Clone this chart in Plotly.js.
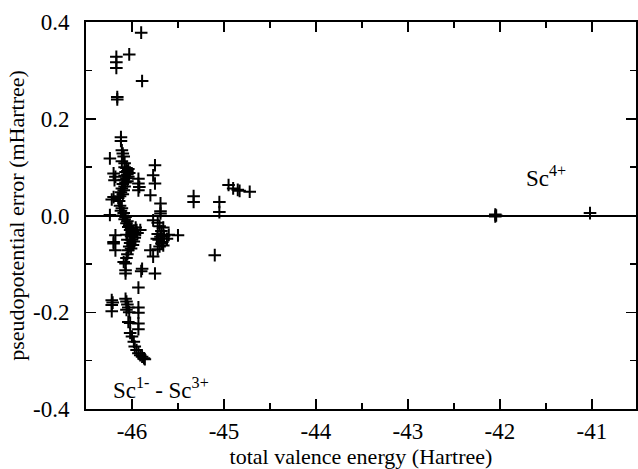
<!DOCTYPE html>
<html>
<head>
<meta charset="utf-8">
<script src="https://cdn.plot.ly/plotly-3.0.1.min.js"></script>
<style>html,body{margin:0;padding:0;background:#fff;}#chart{width:638px;height:469px;}</style>
</head>
<body>
<div id="chart"></div>
<script>
// total valence energy (Hartree)
var energy = [
  -45.90,-46.03,-46.17,-46.17,-46.17,-45.89,-46.16,-46.16,-46.12,-46.12,-46.11,-46.10,-46.09,-46.24,-46.11,-46.08,
  -46.08,-46.06,-46.04,-46.05,-46.07,-46.03,-46.05,-46.08,-46.04,-46.06,-46.09,-46.05,-46.07,-46.10,-46.08,-46.11,-46.09,-46.12,-46.10,-46.20,-46.18,-46.19,-46.13,-46.15,-46.22,-46.20,-46.14,
  -45.75,-45.77,-45.75,-45.93,-45.93,-45.93,-45.92,-45.80,-45.69,-45.69,-45.69,
  -45.33,-45.33,-45.05,-45.05,-44.95,-44.90,-44.85,-44.83,-44.72,-45.10,-42.05,-42.04,-42.05,-41.02,
  -46.13,-46.11,-46.12,-46.09,-46.10,-46.07,-46.08,-46.05,-46.06,-46.03,-46.04,-46.01,-46.02,-45.99,-46.00,-45.98,-46.01,-45.97,-46.00,-45.98,-46.02,-45.99,-46.03,-46.01,-46.04,-45.96,-45.95,-45.94,-45.91,-46.06,-46.05,-46.24,-46.18,-46.20,-46.18,-46.20,-46.09,-46.07,-46.07,-46.07,-45.89,-46.05,-46.06,
  -45.77,-45.72,-45.70,-45.66,-45.68,-45.72,-45.69,-45.65,-45.71,-45.67,-45.73,-45.68,-45.70,-45.66,-45.72,-45.80,-45.77,-45.50,-45.62,-45.60,-45.75,-45.90,-45.93,
  -46.22,-46.22,-46.22,-46.21,-46.07,-46.06,-46.05,-46.04,-46.06,-46.03,-45.93,-45.93,-46.04,-46.02,-45.93,-45.93,-46.02,-46.00,-45.98,-45.97,-45.95,-45.93,-45.91,-45.89,-45.87,-45.86
];
// pseudopotential error (mHartree)
var ppError = [
  0.378,0.333,0.328,0.317,0.305,0.278,0.245,0.240,0.162,0.154,0.135,0.128,0.122,0.118,0.112,0.108,
  0.100,0.098,0.096,0.092,0.090,0.088,0.085,0.082,0.080,0.077,0.074,0.071,0.068,0.065,0.060,0.056,0.052,0.048,0.044,0.087,0.080,0.073,0.040,0.036,0.033,0.038,0.030,
  0.104,0.083,0.066,0.076,0.066,0.052,0.059,0.042,0.025,0.009,0.004,
  0.040,0.028,0.028,0.007,0.063,0.056,0.053,0.051,0.049,-0.082,0.002,0.000,-0.002,0.005,
  0.020,0.015,0.010,0.005,0.000,-0.003,-0.008,-0.012,-0.016,-0.020,-0.024,-0.027,-0.030,-0.033,-0.036,-0.040,-0.043,-0.046,-0.050,-0.054,-0.057,-0.061,-0.064,-0.068,-0.072,-0.025,-0.030,-0.036,-0.030,-0.040,-0.050,0.001,-0.041,-0.055,-0.072,-0.058,-0.096,-0.099,-0.113,-0.120,-0.110,-0.080,-0.088,
  -0.010,-0.015,-0.022,-0.025,-0.032,-0.038,-0.044,-0.042,-0.050,-0.055,-0.048,-0.058,-0.064,-0.062,-0.070,-0.072,-0.085,-0.041,-0.048,-0.040,-0.120,-0.115,-0.149,
  -0.175,-0.185,-0.198,-0.180,-0.172,-0.178,-0.184,-0.190,-0.195,-0.200,-0.201,-0.190,-0.220,-0.222,-0.223,-0.235,-0.243,-0.250,-0.261,-0.271,-0.278,-0.285,-0.289,-0.292,-0.295,-0.297
];
var xTickVals = [-46,-45,-44,-43,-42,-41];
var xTickText = ['-46','-45','-44','-43','-42','-41'];
var yTickVals = [-0.4,-0.2,0.0,0.2,0.4];
var yTickText = ['-0.4','-0.2','0.0','0.2','0.4'];

var font = 'Liberation Serif, Times New Roman, serif';
var trace = {
  x: energy, y: ppError, type: 'scatter', mode: 'markers',
  marker: {symbol: 'cross-thin-open', size: 9, color: '#000', line: {color: '#000', width: 2}},
  hoverinfo: 'none'
};
var layout = {
  width: 638, height: 469,
  margin: {l: 86, r: 2, t: 22, b: 60},
  paper_bgcolor: '#fff', plot_bgcolor: '#fff',
  showlegend: false,
  font: {family: font, size: 23, color: '#000'},
  xaxis: {
    range: [-46.5, -40.52], tickvals: xTickVals, ticktext: xTickText,
    ticks: 'inside', ticklen: 10, tickwidth: 1.5, tickcolor: '#000',
    minor: {dtick: 0.5, tick0: 0, ticks: 'inside', ticklen: 6, tickwidth: 1.5, tickcolor: '#000'},
    showline: true, linewidth: 2, linecolor: '#000', mirror: 'ticks',
    showgrid: false, zeroline: false, ticklabelstandoff: 0,
    tickfont: {family: font, size: 23},
    title: {text: 'total valence energy (Hartree)', font: {family: font, size: 22}, standoff: 1}
  },
  yaxis: {
    range: [-0.4, 0.4], tickvals: yTickVals, ticktext: yTickText,
    ticks: 'inside', ticklen: 10, tickwidth: 1.5, tickcolor: '#000',
    minor: {dtick: 0.1, tick0: 0, ticks: 'inside', ticklen: 6, tickwidth: 1.5, tickcolor: '#000'},
    showline: true, linewidth: 2, linecolor: '#000', mirror: 'ticks',
    showgrid: false, zeroline: true, zerolinecolor: '#000', zerolinewidth: 2,
    ticklabelstandoff: 10,
    tickfont: {family: font, size: 23},
    title: {text: 'pseudopotential error (mHartree)', font: {family: font, size: 22}, standoff: 2}
  },
  annotations: [
    {x: -41.5, y: 0.08, xref: 'x', yref: 'y', text: 'Sc<sup>4+</sup>', showarrow: false,
     font: {family: font, size: 23, color: '#000'}},
    {x: -45.69, y: -0.357, xref: 'x', yref: 'y', text: 'Sc<sup>1-</sup> - Sc<sup>3+</sup>', showarrow: false,
     font: {family: font, size: 23, color: '#000'}}
  ]
};
Plotly.newPlot('chart', [trace], layout, {displayModeBar: false, staticPlot: true});
</script>
</body>
</html>
